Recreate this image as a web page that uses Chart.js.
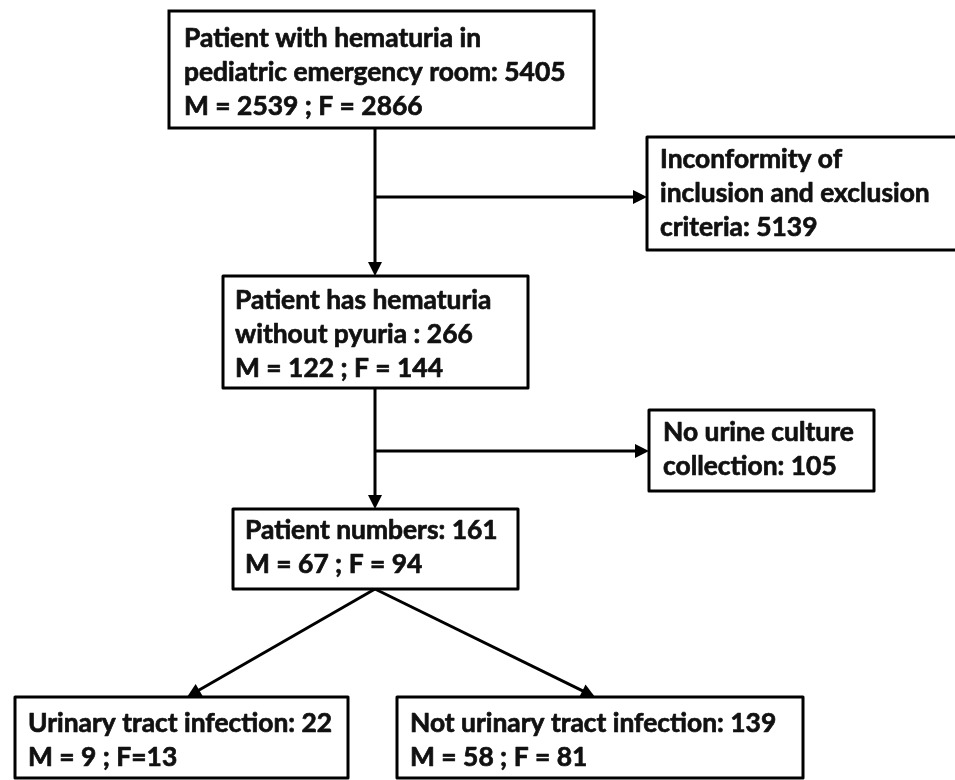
<!DOCTYPE html>
<html>
<head>
<meta charset="utf-8">
<script src="https://cdn.jsdelivr.net/npm/chart.js@4.4.1/dist/chart.umd.min.js"></script>
<style>
  html, body { margin: 0; padding: 0; background: #fff; }
  #wrap { width: 955px; height: 780px; }
</style>
</head>
<body>
<div id="wrap"><canvas id="flow" width="955" height="780"></canvas></div>
<script>
// stages of the flow, top to bottom
const stageLines = [
  ["Patient with hematuria in", "pediatric emergency room:"],
  ["Inconformity of", "inclusion and exclusion", "criteria:"],
  ["Patient has hematuria", "without pyuria :"],
  ["No urine culture", "collection:"],
  ["Patient numbers:"],
  ["Urinary tract infection:"],
  ["Not urinary tract infection:"]
];
const stageTotals = [5405, 5139, 266, 105, 161, 22, 139];
const maleCounts = [2539, null, 122, null, 67, 9, 58];
const femaleCounts = [2866, null, 144, null, 94, 13, 81];
const femaleEq = [" = ", null, " = ", null, " = ", "=", " = "];
// arrows [from stage, to stage, kind]
const links = [[0, 2, "down"], [0, 1, "side"], [2, 4, "down"], [2, 3, "side"], [4, 5, "split"], [4, 6, "split"]];

// ---- layout (chart units = pixels of the 955x780 picture) ----
const W = 955, H = 780;
const boxes = [
  [169, 11, 594, 128],
  [647, 137, 958, 250],
  [223, 276, 528, 388],
  [649, 410, 874, 491],
  [233, 509, 518, 589],
  [15, 697, 348, 778],
  [397, 697, 803, 778]
];
const textAt = [[184, 47], [660, 168], [235, 309], [663, 441], [245, 539], [28, 732], [410, 732]];
const lineGap = 34;
const trunkX = 375;
const sideY = { 1: 197, 3: 451 };
const splitTipX = { 5: 187, 6: 595 };
const headLen = 14, headHalf = 7;

function stageText(i) {
  const lines = stageLines[i].slice();
  lines[lines.length - 1] += " " + stageTotals[i];
  if (maleCounts[i] != null) {
    lines.push("M = " + maleCounts[i] + " ; F" + femaleEq[i] + femaleCounts[i]);
  }
  return lines;
}

function linkEnds(lk) {
  const a = boxes[lk[0]], b = boxes[lk[1]];
  if (lk[2] == "down") return [[trunkX, a[3]], [trunkX, b[1]]];
  if (lk[2] == "side") return [[trunkX, sideY[lk[1]]], [b[0], sideY[lk[1]]]];
  return [[trunkX, a[3]], [splitTipX[lk[1]], b[1]]];
}

// stop the shaft a little before the tip so the head stays sharp
function shaft(lk) {
  const e = linkEnds(lk);
  const dx = e[1][0] - e[0][0], dy = e[1][1] - e[0][1];
  const len = Math.hypot(dx, dy), k = (len - headLen + 2) / len;
  return [{x: e[0][0], y: e[0][1]}, {x: e[0][0] + dx * k, y: e[0][1] + dy * k}];
}

const datasets = links.map(lk => ({
  data: shaft(lk),
  showLine: true,
  borderColor: "#000",
  borderWidth: 3,
  pointRadius: 0,
  borderCapStyle: "butt",
  clip: false
}));

let fontPx = 26;
const fontFamily = "Lato, 'Open Sans', sans-serif";

const flowPlugin = {
  id: "flow",
  beforeDraw(chart) {
    const ctx = chart.ctx;
    ctx.save();
    ctx.fillStyle = "#fff";
    ctx.fillRect(0, 0, chart.width, chart.height);
    ctx.restore();
  },
  afterDatasetsDraw(chart) {
    const ctx = chart.ctx, xs = chart.scales.x, ys = chart.scales.y;
    ctx.save();
    // fit the font to the width of the widest line in the top box
    ctx.font = "bold 26px " + fontFamily;
    fontPx = 26 * 382 / ctx.measureText(stageText(0)[1]).width;
    boxes.forEach((b, i) => {
      const x0 = xs.getPixelForValue(b[0]), y0 = ys.getPixelForValue(b[1]);
      const x1 = xs.getPixelForValue(b[2]), y1 = ys.getPixelForValue(b[3]);
      ctx.fillStyle = "#fff";
      ctx.fillRect(x0, y0, x1 - x0, y1 - y0);
      ctx.strokeStyle = "#000";
      ctx.lineWidth = 3;
      ctx.strokeRect(x0, y0, x1 - x0, y1 - y0);
      ctx.fillStyle = "#111";
      ctx.strokeStyle = "#111";
      ctx.lineWidth = 0.7;
      ctx.lineJoin = "round";
      ctx.font = "bold " + fontPx.toFixed(1) + "px " + fontFamily;
      ctx.textBaseline = "alphabetic";
      stageText(i).forEach((t, j) => {
        const tx = xs.getPixelForValue(textAt[i][0]);
        const ty = ys.getPixelForValue(textAt[i][1] + j * lineGap);
        ctx.fillText(t, tx, ty);
        ctx.strokeText(t, tx, ty); // Calibri bold is a bit heavier than Lato
      });
    });
    // arrow heads
    links.forEach(lk => {
      const e = linkEnds(lk);
      const tx = xs.getPixelForValue(e[1][0]), ty = ys.getPixelForValue(e[1][1]);
      const sx = xs.getPixelForValue(e[0][0]), sy = ys.getPixelForValue(e[0][1]);
      const ang = Math.atan2(ty - sy, tx - sx);
      ctx.fillStyle = "#000";
      ctx.beginPath();
      ctx.moveTo(tx, ty);
      ctx.lineTo(tx - headLen * Math.cos(ang) + headHalf * Math.sin(ang), ty - headLen * Math.sin(ang) - headHalf * Math.cos(ang));
      ctx.lineTo(tx - headLen * Math.cos(ang) - headHalf * Math.sin(ang), ty - headLen * Math.sin(ang) + headHalf * Math.cos(ang));
      ctx.closePath();
      ctx.fill();
    });
    ctx.restore();
  }
};

new Chart(document.getElementById("flow"), {
  type: "scatter",
  data: { datasets: datasets },
  options: {
    responsive: false,
    animation: false,
    layout: { padding: 0 },
    plugins: { legend: { display: false }, tooltip: { enabled: false } },
    scales: {
      x: { type: "linear", min: 0, max: W, display: false },
      y: { type: "linear", min: 0, max: H, reverse: true, display: false }
    }
  },
  plugins: [flowPlugin]
});
</script>
</body>
</html>
